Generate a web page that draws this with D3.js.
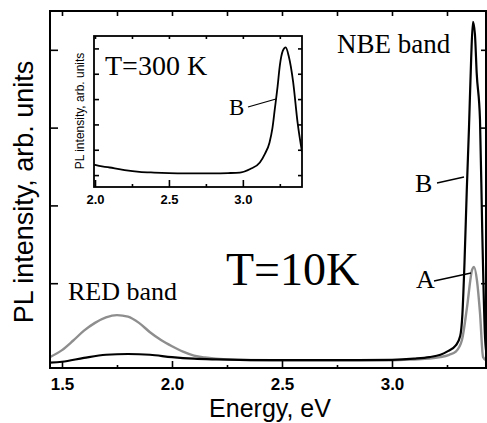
<!DOCTYPE html>
<html>
<head>
<meta charset="utf-8">
<script src="https://cdn.jsdelivr.net/npm/d3@7"></script>
<style>
  html, body { margin: 0; padding: 0; background: #fff; }
  svg { display: block; }
</style>
</head>
<body>
<svg id="chart" width="487" height="423"></svg>
<script>
// Photoluminescence spectra, main panel at T=10K (energy in eV, intensity in arb. units)
const energyA = [1.445, 1.5, 1.55, 1.6, 1.65, 1.7, 1.75, 1.8, 1.85, 1.9, 1.95, 2.0, 2.05, 2.1, 2.15, 2.2, 2.3, 2.5, 2.8, 3.0, 3.1, 3.17, 3.22, 3.26, 3.29, 3.318, 3.341, 3.364, 3.373, 3.386, 3.40, 3.414, 3.432];
const intensityA = [0.05, 0.14, 0.26, 0.39, 0.49, 0.56, 0.59, 0.57, 0.49, 0.37, 0.27, 0.19, 0.12, 0.07, 0.045, 0.03, 0.015, 0.01, 0.01, 0.01, 0.02, 0.03, 0.05, 0.08, 0.12, 0.27, 0.69, 1.17, 1.21, 1.04, 0.62, 0.05, 0.0];

const energyB = [1.445, 1.5, 1.6, 1.7, 1.8, 1.9, 2.0, 2.1, 2.2, 2.4, 2.6, 2.8, 3.0, 3.1, 3.17, 3.22, 3.25, 3.29, 3.31, 3.32, 3.33, 3.34, 3.35, 3.36, 3.368, 3.377, 3.385, 3.40, 3.41, 3.423, 3.432];
const intensityB = [-0.02, -0.01, 0.04, 0.08, 0.09, 0.08, 0.05, 0.03, 0.02, 0.01, 0.01, 0.01, 0.015, 0.03, 0.05, 0.08, 0.12, 0.2, 0.32, 0.6, 1.3, 2.2, 3.0, 3.9, 4.36, 4.2, 3.7, 3.1, 1.7, 0.3, 0.05];

// Inset spectrum at T=300 K
const energyRT = [1.995, 2.0, 2.1, 2.2, 2.3, 2.4, 2.5, 2.6, 2.7, 2.8, 2.9, 2.98, 3.05, 3.115, 3.15, 3.18, 3.2, 3.216, 3.235, 3.25, 3.27, 3.29, 3.31, 3.34, 3.37, 3.40];
const intensityRT = [0.42, 0.40, 0.3, 0.2, 0.13, 0.1, 0.08, 0.07, 0.07, 0.07, 0.08, 0.1, 0.24, 0.5, 0.85, 1.28, 1.85, 2.6, 3.5, 4.32, 4.9, 5.04, 4.7, 3.68, 2.08, 0.92];

// Axis ticks
const mainMajorX = [1.5, 2.0, 2.5, 3.0];
const mainMinorX = [1.75, 2.25, 2.75, 3.25];
const mainTicksY = [1, 2, 3, 4];
const insetMajorX = [2.0, 2.5, 3.0];
const insetMinorX = [2.25, 2.75, 3.25];
const insetTicksY = [0, 1, 2, 3, 4, 5];

const svg = d3.select("#chart");
const SANS = "'Liberation Sans', Arial, sans-serif";
const SERIF = "'Liberation Serif', 'Times New Roman', serif";

// ---- main panel ----
const M = { left: 50, right: 486, top: 11, bottom: 368 };
const x = d3.scaleLinear().domain([1.4455, 3.4273]).range([M.left, M.right]);
const y = d3.scaleLinear().domain([-0.09, 4.499]).range([M.bottom, M.top]);

svg.append("clipPath").attr("id", "mainClip")
  .append("rect").attr("x", M.left).attr("y", M.top)
  .attr("width", M.right - M.left).attr("height", M.bottom - M.top);

const line = d3.line().x(d => x(d[0])).y(d => y(d[1])).curve(d3.curveMonotoneX);
const curves = svg.append("g").attr("clip-path", "url(#mainClip)");
curves.append("path").datum(d3.zip(energyA, intensityA))
  .attr("d", line).attr("fill", "none").attr("stroke", "#8e8e8e").attr("stroke-width", 2.4);
curves.append("path").datum(d3.zip(energyB, intensityB))
  .attr("d", line).attr("fill", "none").attr("stroke", "#000").attr("stroke-width", 2.2)
  .attr("stroke-linejoin", "round");

function styleAxis(g) {
  g.select(".domain").remove();
  g.selectAll(".tick line").attr("stroke", "#000").attr("stroke-width", 1.6);
}

// bottom axis with labels
const bottom = svg.append("g").attr("transform", `translate(0,${M.bottom})`)
  .call(d3.axisBottom(x).tickValues(mainMajorX).tickSize(-7).tickPadding(10).tickFormat(d3.format(".1f")));
styleAxis(bottom);
bottom.selectAll("text").attr("font-family", SANS).attr("font-weight", "bold")
  .attr("font-size", 17).attr("fill", "#000");
svg.append("g").attr("transform", `translate(0,${M.bottom})`)
  .call(d3.axisBottom(x).tickValues(mainMinorX).tickSize(-3).tickFormat("")).call(styleAxis);
// top axis
svg.append("g").attr("transform", `translate(0,${M.top})`)
  .call(d3.axisTop(x).tickValues(mainMajorX.concat(mainMinorX)).tickSize(-5).tickFormat("")).call(styleAxis);
// left and right axes
svg.append("g").attr("transform", `translate(${M.left},0)`)
  .call(d3.axisLeft(y).tickValues(mainTicksY).tickSize(-8).tickFormat("")).call(styleAxis);
svg.append("g").attr("transform", `translate(${M.right},0)`)
  .call(d3.axisRight(y).tickValues(mainTicksY).tickSize(-5).tickFormat("")).call(styleAxis);

svg.append("rect").attr("x", M.left).attr("y", M.top)
  .attr("width", M.right - M.left).attr("height", M.bottom - M.top)
  .attr("fill", "none").attr("stroke", "#000").attr("stroke-width", 2);

// axis titles
svg.append("text").attr("x", 270).attr("y", 417).attr("text-anchor", "middle")
  .attr("font-family", SANS).attr("font-size", 25).text("Energy, eV");
svg.append("text").attr("transform", "translate(33,192) rotate(-90)").attr("text-anchor", "middle")
  .attr("font-family", SANS).attr("font-size", 27).text("PL intensity, arb. units");

// annotations
function serifText(tx, ty, size, s) {
  svg.append("text").attr("x", tx).attr("y", ty).attr("font-family", SERIF)
    .attr("font-size", size).attr("fill", "#000").text(s);
}
serifText(337, 53, 27, "NBE band");
serifText(415, 192, 26, "B");
serifText(416, 288, 26, "A");
serifText(226, 285, 46, "T=10K");
serifText(68, 300, 26, "RED band");

function leader(x1, y1, x2, y2) {
  svg.append("line").attr("x1", x1).attr("y1", y1).attr("x2", x2).attr("y2", y2)
    .attr("stroke", "#000").attr("stroke-width", 1.3);
}
leader(437, 183, 464, 177);
leader(434, 281, 471, 273);

// ---- inset panel ----
const I = { left: 94, right: 302, top: 36, bottom: 187 };
const xi = d3.scaleLinear().domain([1.9932, 3.4]).range([I.left, I.right]);
const yi = d3.scaleLinear().domain([-0.47, 5.49]).range([I.bottom, I.top]);

svg.append("rect").attr("x", I.left).attr("y", I.top)
  .attr("width", I.right - I.left).attr("height", I.bottom - I.top).attr("fill", "#fff");
svg.append("clipPath").attr("id", "insetClip")
  .append("rect").attr("x", I.left).attr("y", I.top)
  .attr("width", I.right - I.left).attr("height", I.bottom - I.top);

const lineI = d3.line().x(d => xi(d[0])).y(d => yi(d[1])).curve(d3.curveMonotoneX);
svg.append("g").attr("clip-path", "url(#insetClip)")
  .append("path").datum(d3.zip(energyRT, intensityRT))
  .attr("d", lineI).attr("fill", "none").attr("stroke", "#000").attr("stroke-width", 1.8);

const ib = svg.append("g").attr("transform", `translate(0,${I.bottom})`)
  .call(d3.axisBottom(xi).tickValues(insetMajorX).tickSize(-7).tickPadding(8).tickFormat(d3.format(".1f")));
styleAxis(ib);
ib.selectAll("text").attr("font-family", SANS).attr("font-weight", "bold")
  .attr("font-size", 13).attr("fill", "#000");
svg.append("g").attr("transform", `translate(0,${I.bottom})`)
  .call(d3.axisBottom(xi).tickValues(insetMinorX).tickSize(-3).tickFormat("")).call(styleAxis);
svg.append("g").attr("transform", `translate(0,${I.top})`)
  .call(d3.axisTop(xi).tickValues(insetMajorX.concat(insetMinorX)).tickSize(-3).tickFormat("")).call(styleAxis);
svg.append("g").attr("transform", `translate(${I.left},0)`)
  .call(d3.axisLeft(yi).tickValues(insetTicksY).tickSize(-5).tickFormat("")).call(styleAxis);
svg.append("g").attr("transform", `translate(${I.right},0)`)
  .call(d3.axisRight(yi).tickValues(insetTicksY).tickSize(-4).tickFormat("")).call(styleAxis);

svg.append("rect").attr("x", I.left).attr("y", I.top)
  .attr("width", I.right - I.left).attr("height", I.bottom - I.top)
  .attr("fill", "none").attr("stroke", "#000").attr("stroke-width", 1.8);

svg.append("text").attr("transform", "translate(84,111) rotate(-90)").attr("text-anchor", "middle")
  .attr("font-family", SANS).attr("font-size", 12).text("PL intensity, arb. units");
serifText(105, 75, 28, "T=300 K");
serifText(229, 115, 23, "B");
leader(248, 107, 276, 99);
</script>
</body>
</html>
